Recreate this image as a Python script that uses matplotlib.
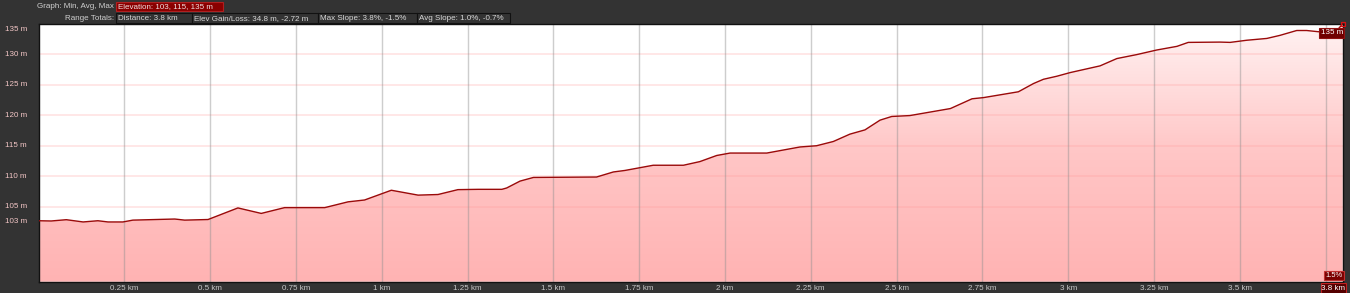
import matplotlib
matplotlib.use("Agg")
import matplotlib.pyplot as plt
import numpy as np
from matplotlib.patches import Rectangle
from matplotlib.colors import LinearSegmentedColormap
import matplotlib.transforms as mtransforms

# ---------------- data ----------------
distance_km = [0, 0.037, 0.081, 0.13, 0.173, 0.2025, 0.246, 0.275, 0.397, 0.426, 0.494,
               0.581, 0.649, 0.717, 0.834, 0.902, 0.950, 1.028, 1.106, 1.164, 1.222, 1.281,
               1.350, 1.364, 1.403, 1.442, 1.626, 1.675, 1.709, 1.791, 1.879, 1.927, 1.976,
               2.015, 2.122, 2.18, 2.219, 2.267, 2.316, 2.364, 2.408, 2.452, 2.486, 2.539,
               2.657, 2.72, 2.754, 2.855, 2.899, 2.928, 2.967, 3.006, 3.093, 3.142, 3.2,
               3.258, 3.317, 3.35, 3.443, 3.472, 3.52, 3.579, 3.617, 3.666, 3.695, 3.729,
               3.78, 3.8]
elevation_m = [102.7, 102.66, 102.87, 102.5, 102.7, 102.5, 102.5, 102.8, 102.98, 102.8, 102.9,
               104.8, 103.9, 104.85, 104.85, 105.8, 106.1, 107.7, 106.9, 107.0, 107.8, 107.85,
               107.85, 108.07, 109.2, 109.8, 109.87, 110.7, 110.95, 111.8, 111.8, 112.4, 113.4,
               113.8, 113.8, 114.4, 114.8, 115.0, 115.7, 116.9, 117.6, 119.2, 119.8, 119.95,
               121.1, 122.7, 122.9, 123.85, 125.2, 125.9, 126.4, 127.0, 128.1, 129.3, 129.95,
               130.7, 131.3, 131.95, 132.0, 131.95, 132.3, 132.6, 133.1, 133.9, 133.9, 133.7,
               133.7, 135.0]
y_gridlines = [105, 110, 115, 120, 125, 130]
y_labels = ["103 m", "105 m", "110 m", "115 m", "120 m", "125 m", "130 m", "135 m"]
x_ticks = [0.25, 0.5, 0.75, 1, 1.25, 1.5, 1.75, 2, 2.25, 2.5, 2.75, 3, 3.25, 3.5, 3.75]
x_tick_labels = ["0.25 km", "0.5 km", "0.75 km", "1 km", "1.25 km", "1.5 km", "1.75 km",
                 "2 km", "2.25 km", "2.5 km", "2.75 km", "3 km", "3.25 km", "3.5 km", ""]
header_row1_label = "Graph: Min, Avg, Max"
header_row1_value = "Elevation: 103, 115, 135 m"
header_row2_label = "Range Totals:"
header_row2_values = ["Distance: 3.8 km", "Elev Gain/Loss: 34.8 m, -2.72 m",
                      "Max Slope: 3.8%, -1.5%", "Avg Slope: 1.0%, -0.7%"]
max_label = "135 m"
slope_label = "1.5%"
end_label = "3.8 km"

# ---------------- figure ----------------
W, H = 1350, 293
BG = "#333333"
FONT = "Liberation Sans"
FS = 5.8
plt.rcParams["font.family"] = [FONT, "DejaVu Sans"]

fig = plt.figure(figsize=(W / 100, H / 100), dpi=100, facecolor=BG)

ax_l, ax_r, ax_t, ax_b = 38.5, 1342.7, 23.8, 281.7
ax = fig.add_axes([ax_l / W, 1 - ax_b / H, (ax_r - ax_l) / W, (ax_b - ax_t) / H])
ax.set_facecolor("white")
ymin, ymax = 92.7, 135.0
xmax = 3.8
ax.set_xlim(0, xmax)
ax.set_ylim(ymin, ymax)

x = np.array(distance_km)
y = np.array(elevation_m)

# gradient fill under the curve
cmap = LinearSegmentedColormap.from_list("pk", ["#ffb3b3", "#ffc6c6", "#fff2f2"])
grad = np.linspace(0, 1, 256).reshape(-1, 1)
poly = ax.fill_between(x, y, ymin, facecolor="none", edgecolor="none")
im = ax.imshow(grad, cmap=cmap, aspect="auto", origin="lower",
               extent=(0, xmax, ymin, ymax), zorder=1, interpolation="bilinear")
clip = poly.get_paths()[0]
im.set_clip_path(clip, transform=ax.transData)

# grid
for g in y_gridlines:
    ax.axhline(g, color="#ff9a9a", alpha=0.28, lw=1.2, zorder=2)
for t in x_ticks:
    ax.axvline(t, color="#909090", alpha=0.45, lw=1.0, zorder=2)

ax.plot(x, y, color="#9a0a0a", lw=1.0, zorder=3, solid_joinstyle="round")

ax.set_xticks([])
ax.set_yticks([])
for s in ax.spines.values():
    s.set_color("#111111")
    s.set_linewidth(1.0)

# y labels
ytr = mtransforms.blended_transform_factory(fig.transFigure, ax.transData)
y_label_vals = [min(elevation_m)] + y_gridlines + [ymax]
for v, lab in zip(y_label_vals, y_labels):
    va = "top" if v == ymax else "center"
    ax.text(5 / W, v - (0.35 if v == ymax else 0), lab, transform=ytr, ha="left", va=va,
            fontsize=FS, color="#f3c6c6", clip_on=False)

# x labels
xtr = mtransforms.blended_transform_factory(ax.transData, fig.transFigure)
for t, lab in zip(x_ticks, x_tick_labels):
    if lab:
        ax.text(t, 1 - 289 / H, lab, transform=xtr, ha="center", va="center",
                fontsize=FS, color="#c8c8c8", clip_on=False)

# end marker
ax.plot([x[-1]], [y[-1]], marker="s", ms=3.5, mfc="none", mec="#dd1111", mew=0.9,
        zorder=5, clip_on=False)

# overlay axes in pixel coordinates for header and boxes
ov = fig.add_axes([0, 0, 1, 1], facecolor="none")
ov.set_xlim(0, W)
ov.set_ylim(H, 0)
ov.axis("off")


def box(x0, y0, x1, y1, fc, ec, text=None, ha="left", color="white", fs=FS):
    ov.add_patch(Rectangle((x0, y0), x1 - x0, y1 - y0, facecolor=fc, edgecolor=ec, lw=0.8))
    if text:
        tx = x0 + 2 if ha == "left" else (x0 + x1) / 2
        ov.text(tx, (y0 + y1) / 2 + 0.2, text, ha=ha, va="center", fontsize=fs, color=color)


# header row 1
ov.text(114, 6.5, header_row1_label, ha="right", va="center", fontsize=FS, color="#d0d0d0")
box(115.5, 1.5, 222.5, 11.2, "#8a0000", "#b02020", header_row1_value, color="#f0e0e0")
# header row 2
ov.text(114, 18, header_row2_label, ha="right", va="center", fontsize=FS, color="#d0d0d0")
edges = [115.5, 191.7, 318, 416.7, 510]
for i, lab in enumerate(header_row2_values):
    box(edges[i], 12.8, edges[i + 1], 23.0, BG, "#111111", lab, color="#d8d8d8")

# right-side labels
box(1319, 28, 1344.3, 37.5, "#700000", "#901010", max_label, ha="center", color="white")
box(1323.5, 271, 1344, 280, "#7a0000", "#c03030", slope_label, ha="center", color="white", fs=5.4)
box(1321, 283, 1345.5, 293.5, "#550000", "#c02020", end_label, ha="center", color="white")

fig.savefig("out.png", dpi=100, facecolor=BG)
